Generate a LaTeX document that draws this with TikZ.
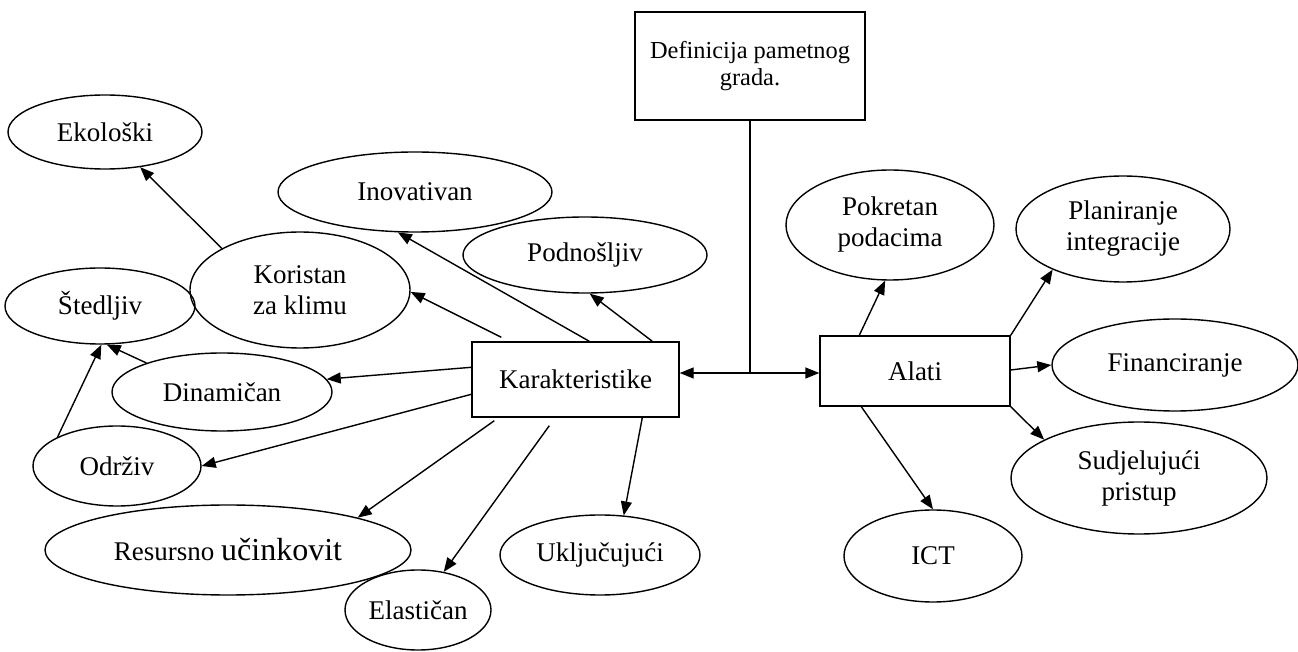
\documentclass[tikz,border=0pt]{standalone}
\usepackage{fontspec}
\setmainfont{Liberation Serif}
\usetikzlibrary{shapes.geometric,arrows.meta,calc}
\tikzset{every node/.append style={align=center}}
\tikzset{
  oval/.style={draw, ellipse, line width=0.7pt, inner sep=0pt},
  box/.style={draw, rectangle, line width=0.7pt, inner sep=0pt},
  arr/.style={-{Triangle[length=7pt,width=5.5pt]}, line width=0.7pt},
  biarr/.style={{Triangle[length=7pt,width=5.5pt]}-{Triangle[length=7pt,width=5.5pt]}, line width=0.7pt},
}

\begin{document}
\begin{tikzpicture}[x=0.5pt, y=-0.5pt, font=\fontsize{13.5}{15.5}\selectfont]
    \useasboundingbox (0,0) rectangle (1298,652);

    % Central boxes
    \node[box, minimum width=115pt, minimum height=54pt, font=\fontsize{12.2}{13.5}\selectfont] (def) at (750,66) {Definicija pametnog\\grada.};
    \node[box, minimum width=103.5pt, minimum height=37.5pt] (kar) at (575.5,379.5) {Karakteristike};
    \node[box, minimum width=95pt, minimum height=35pt] (alati) at (915,371) {Alati};
    \coordinate (junc) at (750,373);

    % Characteristics
    \node[oval, minimum width=97pt, minimum height=37pt] (eko) at (105,132) {Ekološki};
    \node[oval, minimum width=137pt, minimum height=40pt] (inov) at (415,192) {Inovativan};
    \node[oval, minimum width=110pt, minimum height=58pt] (kor) at (300,290) {Koristan\\za klimu};
    \node[oval, minimum width=95pt, minimum height=38pt] (sted) at (100,306) {Štedljiv};
    \node[oval, minimum width=122pt, minimum height=38pt] (podn) at (585,255) {Podnošljiv};
    \node[oval, minimum width=110pt, minimum height=39pt] (din) at (222,392) {Dinamičan};
    \node[oval, minimum width=84pt, minimum height=40pt] (odr) at (117,466) {Održiv};
    \node[oval, minimum width=183pt, minimum height=45pt] (res) at (228,550) {Resursno {\fontsize{16}{18}\selectfont učinkovit}};
    \node[oval, minimum width=73pt, minimum height=40pt] (ela) at (418,610) {Elastičan};
    \node[oval, minimum width=100pt, minimum height=40pt] (ukl) at (600,555) {Uključujući};

    % Tools
    \node[oval, minimum width=104pt, minimum height=55pt] (pok) at (890,225) {Pokretan\\podacima};
    \node[oval, minimum width=107pt, minimum height=53pt] (plan) at (1123,229) {Planiranje\\integracije};
    \node[oval, minimum width=123pt, minimum height=46pt] (fin) at (1175,365) {Financiranje};
    \node[oval, minimum width=128pt, minimum height=56pt] (sud) at (1139,478) {Sudjelujući\\pristup};
    \node[oval, minimum width=89pt, minimum height=46pt] (ict) at (933,556) {ICT};

    % Definition and link
    \draw[line width=0.7pt] (def.south) -- (junc);
    \draw[biarr] (kar.east |- junc) -- (alati.west |- junc);

    % Karakteristike branches
    \draw[arr] ($(kar.north west)+(118,0)$) -- (inov.-113);
    \draw[arr] ($(kar.north west)+(30,-4)$) -- (kor.-1);
    \draw[arr] ($(kar.north west)+(181,0)$) -- (podn.-83);
    \draw[arr] ($(kar.north west)+(0,26)$) -- (din.7);
    \draw[arr] ($(kar.north west)+(0,53)$) -- (odr.0);
    \draw[arr] ($(kar.south west)+(23,3)$) -- (res.14);
    \draw[arr] ($(kar.south west)+(78,8)$) -- (ela.56);
    \draw[arr] ($(kar.south west)+(171,0)$) -- (ukl.59);
    \draw[arr] (kor.152) -- (eko.-45);
    \draw[arr] (din.159) -- (sted.-80);
    \draw[arr] (odr.154) -- (sted.-88);

    % Alati branches
    \draw[arr] ($(alati.north west)+(40,0)$) -- (pok.-95);
    \draw[arr] (alati.north east) -- (plan.-150);
    \draw[arr] ($(alati.east)+(0,-1)$) -- (fin.180);
    \draw[arr] (alati.south east) -- (sud.158);
    \draw[arr] ($(alati.south west)+(42,0)$) -- (ict.90);
\end{tikzpicture}
\end{document}
